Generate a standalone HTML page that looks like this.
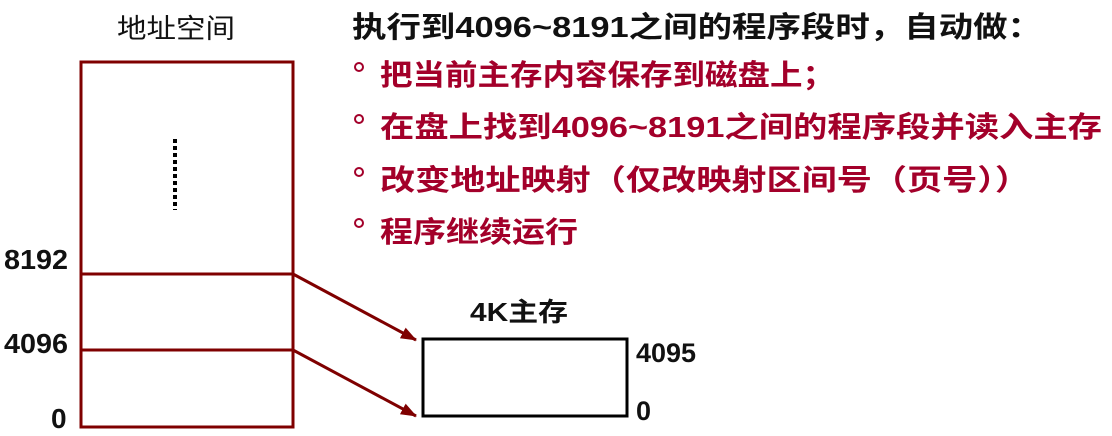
<!DOCTYPE html>
<html><head><meta charset="utf-8"><style>body{margin:0;background:#fff}svg{display:block}</style></head>
<body>
<svg width="1112" height="436" xmlns="http://www.w3.org/2000/svg" font-family="'Liberation Sans','Noto Sans CJK SC',sans-serif">
<defs><marker id="b" markerWidth="16" markerHeight="12" refX="15" refY="6" orient="auto" markerUnits="userSpaceOnUse"><path d="M0,0 L16,6 L0,12 z" fill="#7f0000"/></marker></defs>
<text x="176" y="38" font-size="27" text-anchor="middle" fill="#111" textLength="118" lengthAdjust="spacingAndGlyphs">地址空间</text>
<rect x="81" y="62" width="212" height="365" fill="none" stroke="#7f0000" stroke-width="3"/>
<line x1="81" y1="274" x2="293" y2="274" stroke="#7f0000" stroke-width="3"/>
<line x1="81" y1="350" x2="293" y2="350" stroke="#7f0000" stroke-width="3"/>
<line x1="175" y1="139" x2="175" y2="210" stroke="#000" stroke-width="4" stroke-dasharray="4,3"/>
<text x="4" y="269" font-size="28" font-weight="bold" fill="#111" textLength="64" lengthAdjust="spacingAndGlyphs">8192</text>
<text x="4" y="353" font-size="28" font-weight="bold" fill="#111" textLength="64" lengthAdjust="spacingAndGlyphs">4096</text>
<text x="51" y="428" font-size="28" font-weight="bold" fill="#111">0</text>
<line x1="293" y1="274" x2="416" y2="340" stroke="#7f0000" stroke-width="3" marker-end="url(#b)"/>
<line x1="293" y1="350" x2="416" y2="416" stroke="#7f0000" stroke-width="3" marker-end="url(#b)"/>
<text x="470" y="321" font-size="26" font-weight="bold" fill="#111" textLength="98" lengthAdjust="spacingAndGlyphs">4K主存</text>
<rect x="423" y="339" width="204" height="77" fill="none" stroke="#000" stroke-width="3"/>
<text x="636" y="362" font-size="27" font-weight="bold" fill="#111" textLength="60" lengthAdjust="spacingAndGlyphs">4095</text>
<text x="636" y="420" font-size="27" font-weight="bold" fill="#111">0</text>
<text x="352" y="37" font-size="29" font-weight="bold" fill="#111" textLength="690" lengthAdjust="spacingAndGlyphs">执行到4096~8191之间的程序段时，自动做：</text>
<g fill="#a3002a" font-size="29" font-weight="bold">
<circle cx="359" cy="67" r="4" fill="none" stroke="#a3002a" stroke-width="2"/>
<circle cx="359" cy="119" r="4" fill="none" stroke="#a3002a" stroke-width="2"/>
<circle cx="359" cy="172" r="4" fill="none" stroke="#a3002a" stroke-width="2"/>
<circle cx="359" cy="223" r="4" fill="none" stroke="#a3002a" stroke-width="2"/>
<text x="380" y="85" textLength="455" lengthAdjust="spacingAndGlyphs">把当前主存内容保存到磁盘上；</text>
<text x="380" y="137" textLength="722" lengthAdjust="spacingAndGlyphs">在盘上找到4096~8191之间的程序段并读入主存</text>
<text x="380" y="190" textLength="650" lengthAdjust="spacingAndGlyphs">改变地址映射（仅改映射区间号（页号））</text>
<text x="380" y="242" textLength="198" lengthAdjust="spacingAndGlyphs">程序继续运行</text>
</g>
</svg>
</body></html>
